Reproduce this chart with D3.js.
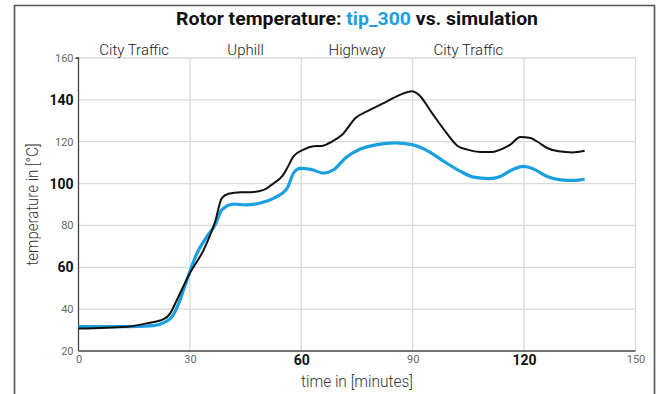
<!DOCTYPE html>
<html><head><meta charset="utf-8">
<script src="https://cdn.jsdelivr.net/npm/d3@7"></script>
<style>
html,body{margin:0;padding:0;background:#fff;}
svg{display:block;font-family:Roboto,"Liberation Sans",sans-serif;}
</style></head>
<body><svg id="chart" width="664" height="394"></svg>
<script>
const measuredTime = [0, 13, 18.4, 22.9, 24.7, 26.5, 30, 33.7, 36.8, 38.6, 40.4, 43.6, 46.3, 49.9, 52.6, 54.8, 56.2, 57.9, 60.6, 63.3, 65.6, 68.3, 71, 74.6, 78.6, 83.1, 86.7, 89.8, 91.6, 95.2, 98.8, 102, 104.7, 108.2, 111.4, 113.6, 116.3, 119, 121.7, 123.5, 126.2, 129.3, 133, 136.3];
const measuredTemp = [30.7, 31.6, 33.2, 35.2, 38, 44.4, 57.2, 68.3, 81.9, 93, 95.1, 95.9, 95.9, 97, 100.2, 103.4, 107.4, 113, 116.2, 117.8, 118, 120.1, 123.3, 131.3, 135.3, 139.3, 142.5, 144.1, 142.5, 133.7, 124.9, 118.1, 116.2, 115.1, 115.1, 116.2, 118.6, 122.2, 121.8, 120.1, 117, 115.4, 114.9, 115.7];
const simTime = [0, 13, 20.2, 22.9, 25.2, 27, 29.2, 31.9, 34.6, 36.8, 38.6, 41.8, 45.1, 49, 52.6, 56.2, 57.9, 59.7, 62.6, 66, 68.7, 71.9, 75.9, 80.4, 85.3, 89.8, 93.4, 98.4, 102.9, 106.4, 110.5, 113.6, 116.8, 119.9, 122.6, 126.2, 129.8, 133.4, 136.3];
const simTemp = [31.6, 31.6, 32.1, 33.5, 36.4, 42.8, 54, 66.7, 74.7, 80.3, 87.5, 90.2, 89.8, 90.7, 93, 97.8, 105, 107.3, 106.8, 105, 106.6, 112.2, 116.5, 118.6, 119.4, 118.6, 116.2, 110.6, 105.8, 103.1, 102.4, 103.4, 106.6, 108.2, 106.9, 103.4, 101.8, 101.5, 102.2];
const sectionNames = ["City Traffic", "Uphill", "Highway", "City Traffic"];
const sectionCenters = [15, 45, 75, 105];
const xTicks = [0, 30, 60, 90, 120, 150];
const xBold = [60, 120];
const yTicks = [20, 40, 60, 80, 100, 120, 140, 160];
const yBold = [60, 100, 140];

const svg = d3.select("#chart");
const blue = "#1a9fe0";
const L = 78.5, R = 635.5, T = 58, B = 351;
const x = d3.scaleLinear().domain([0, 150]).range([L, R]);
const y = d3.scaleLinear().domain([20, 160]).range([B, T]);

// outer frame
svg.append("path").attr("d", `M14.5,394 V5.5 H654.5 V394`).attr("fill", "none").attr("stroke", "#555").attr("stroke-width", 1.6);

// title
const title = svg.append("text").attr("x", 357).attr("y", 25).attr("text-anchor", "middle")
  .attr("font-size", 19).attr("font-weight", "bold").attr("fill", "#111")
  .attr("textLength", 362).attr("lengthAdjust", "spacingAndGlyphs");
title.append("tspan").text("Rotor temperature: ");
title.append("tspan").attr("fill", blue).text("tip_300");
title.append("tspan").text(" vs. simulation");

// gridlines
const g = svg.append("g");
g.selectAll(".vg").data(xTicks.filter(d => d > 0)).join("line")
  .attr("x1", d => x(d)).attr("x2", d => x(d)).attr("y1", T).attr("y2", B)
  .attr("stroke", "#d9d9d9").attr("stroke-width", 1.3);
g.selectAll(".hg").data(yTicks.filter(d => d > 20)).join("line")
  .attr("x1", L).attr("x2", R).attr("y1", d => y(d)).attr("y2", d => y(d))
  .attr("stroke", "#d9d9d9").attr("stroke-width", 1.3);

// axes
const yAxis = d3.axisLeft(y).tickValues(yTicks).tickSize(3).tickPadding(4);
const yg = svg.append("g").attr("transform", `translate(${L},0)`).call(yAxis);
yg.select(".domain").attr("stroke", "#444").attr("stroke-width", 1.3).attr("d", `M-3,${T}H0V${B}`);
yg.selectAll(".tick line").attr("stroke", d => d === 160 ? "#444" : "none");
yg.selectAll(".tick text")
  .attr("font-family", "Roboto, sans-serif")
  .attr("font-size", d => yBold.includes(d) ? 14 : 11)
  .attr("font-weight", d => yBold.includes(d) ? "bold" : "normal")
  .attr("fill", d => yBold.includes(d) ? "#111" : "#666")
  .attr("x", -5);

const xAxis = d3.axisBottom(x).tickValues(xTicks).tickSize(0).tickPadding(4);
const xg = svg.append("g").attr("transform", `translate(0,${B})`).call(xAxis);
xg.select(".domain").attr("stroke", "#444").attr("stroke-width", 1.3).attr("d", `M${L},0H${R}`);
xg.selectAll(".tick text")
  .attr("font-family", "Roboto, sans-serif")
  .attr("font-size", d => xBold.includes(d) ? 14 : 11)
  .attr("font-weight", d => xBold.includes(d) ? "bold" : "normal")
  .attr("fill", d => xBold.includes(d) ? "#111" : "#666");

// section labels
svg.selectAll(".sec").data(sectionNames).join("text")
  .attr("x", (d, i) => x(sectionCenters[i])).attr("y", 55)
  .attr("text-anchor", "middle").attr("font-size", 15).attr("font-weight", 300).attr("fill", "#222")
  .text(d => d);

// axis titles
svg.append("text").attr("x", 357).attr("y", 386.5).attr("text-anchor", "middle")
  .attr("font-size", 16).attr("font-weight", 300).attr("fill", "#333")
  .attr("textLength", 112).attr("lengthAdjust", "spacingAndGlyphs").text("time in [minutes]");
svg.append("text").attr("transform", `translate(38,${(T + B) / 2}) rotate(-90)`)
  .attr("text-anchor", "middle").attr("font-size", 16).attr("font-weight", 300).attr("fill", "#333")
  .attr("textLength", 122).attr("lengthAdjust", "spacingAndGlyphs").text("temperature in [°C]");

// lines
const line = d3.line().curve(d3.curveMonotoneX).x(d => x(d[0])).y(d => y(d[1]));
svg.append("path").datum(simTime.map((t, i) => [t, simTemp[i]]))
  .attr("d", line).attr("fill", "none").attr("stroke", blue).attr("stroke-width", 3.2);
svg.append("path").datum(measuredTime.map((t, i) => [t, measuredTemp[i]]))
  .attr("d", line).attr("fill", "none").attr("stroke", "#111").attr("stroke-width", 2);
</script></body></html>
